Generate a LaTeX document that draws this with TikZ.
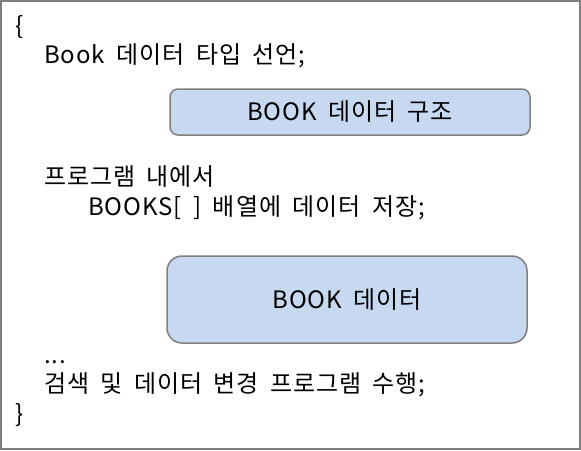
\documentclass[tikz,border=0pt]{standalone}
\usepackage{fontspec}
\setmainfont{Noto Sans CJK KR}[WordSpace=1.8,LetterSpace=4]
\definecolor{boxfill}{HTML}{C6D9F1}
\definecolor{boxline}{HTML}{7F7F7F}
\begin{document}
\begin{tikzpicture}[x=1pt,y=-1pt,
  txt/.style={anchor=base west,inner sep=0pt,font=\fontsize{24}{28}\selectfont},
  bluebox/.style={draw=boxline,line width=1.5pt,fill=boxfill,inner sep=0pt,font=\fontsize{24}{28}\selectfont}]
\useasboundingbox (0,0) rectangle (581,450);
\draw[boxline,line width=2pt] (1,1) rectangle (580,449);
\node[txt] (ob) at (15,34) {\{};
\node[txt] (l1) at (44,63) {Book 데이터 타입 선언;};
\draw[bluebox,rounded corners=8pt] (170,89) rectangle (530,135);
\node[font=\fontsize{24}{28}\selectfont] (b1) at (350,112) {BOOK 데이터 구조};
\node[txt] (l2) at (44,185) {프로그램 내에서};
\node[txt] (l3) at (88,215) {BOOKS[ ] 배열에 데이터 저장;};
\draw[bluebox,rounded corners=15pt] (167,256) rectangle (527,343);
\node[font=\fontsize{24}{28}\selectfont] (b2) at (347,300) {BOOK 데이터};
\node[txt] (l4) at (44,363) {...};
\node[txt] (l5) at (44,392) {검색 및 데이터 변경 프로그램 수행;};
\node[txt] (cb) at (15,422) {\}};
\end{tikzpicture}
\end{document}
